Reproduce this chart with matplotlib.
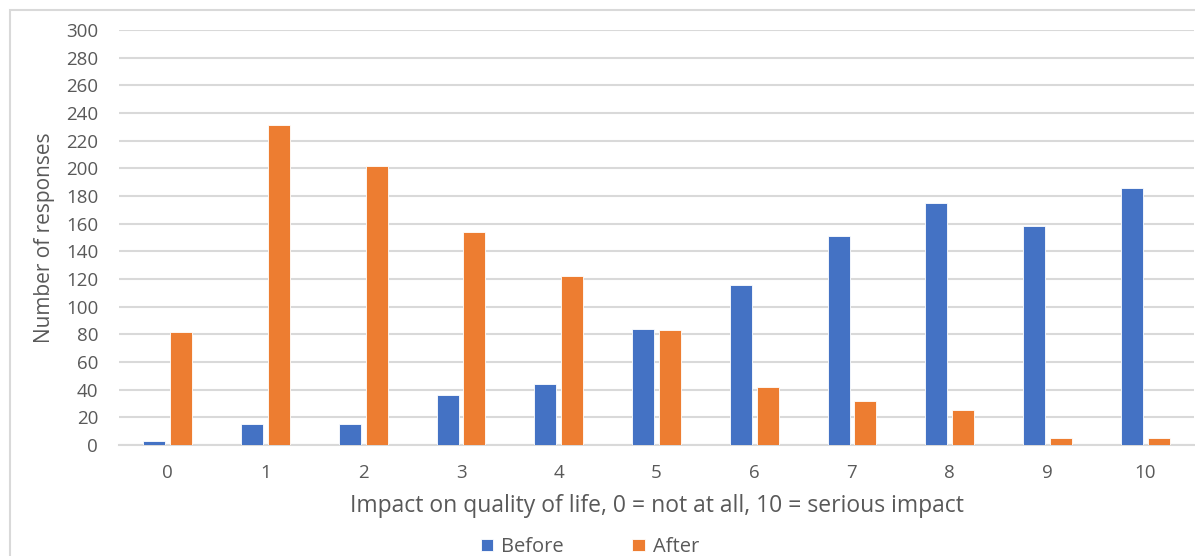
import numpy as np
import matplotlib.pyplot as plt
from matplotlib.patches import Rectangle

plt.rcParams['font.family'] = ['Open Sans', 'DejaVu Sans']

# Data
categories = ['0', '1', '2', '3', '4', '5', '6', '7', '8', '9', '10']
before = [3, 15, 15, 36, 44, 84, 116, 151, 175, 158, 186]
after = [82, 231, 202, 154, 122, 83, 42, 32, 25, 5, 5]

text_color = '#595959'
grid_color = '#D9D9D9'

fig = plt.figure(figsize=(11.95, 5.56), dpi=100)
ax = fig.add_axes([119 / 1195, 1 - 445 / 556, (1194 - 119) / 1195, (445 - 30) / 556])

# outer chart border (clipped at right/bottom like the original)
fig.patches.append(Rectangle((10 / 1195, -0.1), 1.2, 1 - 10 / 556 + 0.1,
                             transform=fig.transFigure, fill=False,
                             edgecolor=grid_color, linewidth=1.5))

x = np.arange(len(categories))
w = 0.225
gap = 0.05
ax.bar(x - (w + gap) / 2, before, width=w, color='#4472C4', label='Before',
       edgecolor='white', linewidth=0.6, zorder=3)
ax.bar(x + (w + gap) / 2, after, width=w, color='#ED7D31', label='After',
       edgecolor='white', linewidth=0.6, zorder=3)

ax.set_xlim(-0.5, len(categories) - 0.5)
ax.set_ylim(0, 300)
ax.set_yticks(range(0, 301, 20))
ax.set_xticks(x)
ax.set_xticklabels(categories)
ax.yaxis.grid(True, color=grid_color, linewidth=1.5, zorder=0)
ax.set_axisbelow(True)
for s in ['top', 'right', 'left']:
    ax.spines[s].set_visible(False)
ax.spines['bottom'].set_color(grid_color)
ax.spines['bottom'].set_linewidth(1.5)
ax.tick_params(axis='both', length=0, labelsize=13.5, labelcolor=text_color)
ax.tick_params(axis='y', pad=15)
ax.tick_params(axis='x', pad=14)

ax.set_xlabel('Impact on quality of life, 0 = not at all, 10 = serious impact',
              fontsize=16.5, color=text_color, labelpad=8)
ax.set_ylabel('Number of responses', fontsize=15, color=text_color, labelpad=8)

fig.legend(loc='center', bbox_to_anchor=(590 / 1195, 1 - 547 / 556), ncol=2,
           frameon=False, fontsize=14.5, labelcolor=text_color,
           handlelength=0.6, handleheight=0.6, handletextpad=0.4, columnspacing=3.4)

fig.savefig('out.png', dpi=100)
